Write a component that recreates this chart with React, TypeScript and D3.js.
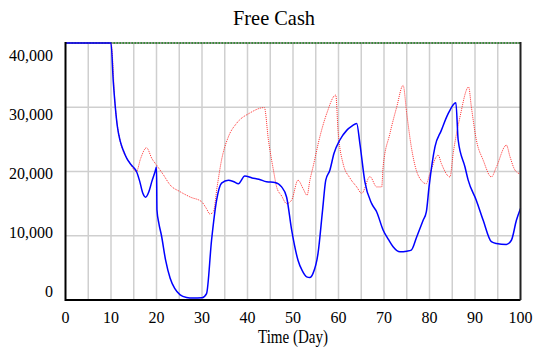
import { useEffect, useRef } from 'react';
import * as d3 from 'd3';

// run 1 (blue, solid)
const blueTime = [
  0, 10, 10.5, 10.95, 11.4, 12, 12.7, 13.5, 14.2, 15, 15.6, 16.3, 17, 17.6, 18.3, 19, 19.7, 20, 20.1,
  20.5, 21.1, 22, 23, 24, 25.2, 26.6, 28, 30, 31, 32.1, 33.2, 34.3, 35.8, 37, 38, 39.4, 41, 42.5,
  44.2, 46, 47.5, 48.6, 49.7, 51.1, 52, 53, 53.7, 54.4, 55.5, 56.5, 57.2, 58.1, 59, 60.3, 61.8, 63,
  64, 64.7, 65.8, 67.3, 68.4, 69.8, 71, 72, 73.5, 75, 76, 77.2, 78.6, 79.3, 79.9, 81.2, 82.6, 84.1,
  85.8, 86.3, 87.8, 88.5, 90.3, 91.8, 93.6, 94.7, 96.9, 98, 99.1, 100,
];
const blueCash = [
  46000, 40000, 34000, 30000, 27000, 24800, 23300, 22000, 21250, 20600, 20000, 18500, 16600, 16000,
  16800, 18500, 20000, 20700, 14000, 12000, 10000, 6200, 3400, 1800, 800, 400, 300, 350, 1000, 9300,
  15500, 18200, 18650, 18400, 18100, 19300, 19000, 18800, 18400, 18300, 17600, 16000, 10900, 6200,
  4600, 3600, 3500, 4150, 7250, 14000, 18650, 20200, 22800, 24900, 26400, 27100, 27470, 24350,
  18400, 15000, 13700, 10900, 9400, 8300, 7500, 7600, 7770, 9850, 12400, 13700, 17600, 23840, 26400,
  29000, 30700, 24900, 20700, 18650, 15500, 12400, 9070, 8800, 8650, 9300, 12400, 14250,
];

// run 2 (red, dotted)
const redTime = [
  0, 10, 10.95, 12, 14.2, 15.6, 16.5, 17.8, 19, 20, 21.5, 23, 25.2, 27.5, 29.9, 31, 31.7, 32.5, 33.3,
  34.3, 35.8, 37.6, 40.5, 43.7, 44.6, 45.7, 46.4, 47.5, 48.6, 49.7, 51.1, 52.2, 53.1, 53.7, 54.4,
  55.9, 57.4, 59.4, 59.9, 61, 62.5, 64, 65.1, 66.9, 68.4, 69.5, 69.8, 71.3, 72.8, 74.2, 75, 76, 77.5,
  79.3, 80.1, 81.9, 82.6, 84.5, 85.2, 86.7, 88.6, 89.2, 90.3, 91.8, 93.6, 94.7, 96.9, 97.7, 98.8, 100,
];
const redCash = [
  46000, 40000, 30000, 24800, 21250, 20000, 22000, 23700, 22000, 21000, 19500, 17900, 16850, 16000,
  15300, 14200, 13400, 13700, 17500, 21800, 25400, 27500, 29100, 29950, 24900, 20200, 17600, 16200,
  15000, 15550, 18650, 17360, 16300, 18600, 20700, 25400, 29000, 31900, 26400, 21250, 19000, 17600,
  16600, 19200, 17600, 17600, 20700, 25900, 30050, 33400, 29000, 23840, 19430, 18100, 19700, 22550,
  21250, 19150, 22800, 28500, 33150, 30050, 24900, 21770, 19150, 20700, 24100, 22280, 20200, 19600,
];

// run 3 (green, dotted) - stays above the scale
const greenTime = [0, 100];
const greenCash = [52000, 52000];

const xTicks = [0, 10, 20, 30, 40, 50, 60, 70, 80, 90, 100];
const xGrid = [5, 10, 15, 20, 25, 30, 35, 40, 45, 50, 55, 60, 65, 70, 75, 80, 85, 90, 95];
const yTicks = [0, 10000, 20000, 30000, 40000];

const FONT = "'Liberation Serif', 'Times New Roman', serif";

const FreeCashChart = () => {
  const ref = useRef<SVGSVGElement>(null);

  const left = 65.5;
  const right = 520.5;
  const top = 43;
  const bottom = 300;

  useEffect(() => {
    const svg = d3.select(ref.current);
    svg.selectAll('*').remove();

    const x = d3.scaleLinear().domain([0, 100]).range([left, right]);
    const y = d3.scaleLinear().domain([0, 40000]).range([bottom, top]).clamp(true);
    // vensim spreads the value labels evenly inside the frame
    const yLabel = d3.scaleLinear().domain([0, 40000]).range([297, 61]);

    // title
    svg
      .append('text')
      .attr('x', 274)
      .attr('y', 25)
      .attr('text-anchor', 'middle')
      .attr('textLength', 82)
      .attr('lengthAdjust', 'spacingAndGlyphs')
      .attr('font-family', FONT)
      .attr('font-size', 22)
      .attr('fill', '#000')
      .text('Free Cash');

    // grid
    const grid = svg.append('g').attr('stroke', '#cfcfcf').attr('stroke-width', 1.5);
    grid
      .selectAll('line.v')
      .data(xGrid)
      .enter()
      .append('line')
      .attr('x1', (d) => x(d))
      .attr('x2', (d) => x(d))
      .attr('y1', top)
      .attr('y2', bottom);
    grid
      .selectAll('line.h')
      .data(yTicks.filter((d) => d > 0 && d < 40000))
      .enter()
      .append('line')
      .attr('x1', left)
      .attr('x2', right)
      .attr('y1', (d) => y(d))
      .attr('y2', (d) => y(d));

    // top frame
    svg
      .append('line')
      .attr('x1', left)
      .attr('x2', right)
      .attr('y1', top)
      .attr('y2', top)
      .attr('stroke', '#777')
      .attr('stroke-width', 1.5);

    const line = (ts: number[]) =>
      d3
        .line<number>()
        .x((_, i) => x(ts[i]))
        .y((d) => y(d))
        .curve(d3.curveMonotoneX);

    svg
      .append('path')
      .attr('d', line(greenTime)(greenCash))
      .attr('fill', 'none')
      .attr('stroke', '#1a8a1a')
      .attr('stroke-width', 1.5)
      .attr('stroke-dasharray', '1.5,1.5');

    svg
      .append('path')
      .attr('d', line(redTime)(redCash))
      .attr('fill', 'none')
      .attr('stroke', '#ff3030')
      .attr('stroke-width', 1)
      .attr('stroke-dasharray', '1,1');

    svg
      .append('path')
      .attr('d', line(blueTime)(blueCash))
      .attr('fill', 'none')
      .attr('stroke', '#0000ff')
      .attr('stroke-width', 1.5)
      .attr('stroke-linejoin', 'round');

    // frame: left, bottom, right
    svg
      .append('path')
      .attr('d', `M${left},${top - 1}V${bottom}H${right}`)
      .attr('fill', 'none')
      .attr('stroke', '#000')
      .attr('stroke-width', 2);
    svg
      .append('line')
      .attr('x1', right)
      .attr('x2', right)
      .attr('y1', top - 1)
      .attr('y2', bottom)
      .attr('stroke', '#222')
      .attr('stroke-width', 2);

    // x labels
    svg
      .append('g')
      .selectAll('text')
      .data(xTicks)
      .enter()
      .append('text')
      .attr('x', (d) => x(d))
      .attr('y', 323)
      .attr('text-anchor', 'middle')
      .attr('font-family', FONT)
      .attr('font-size', 16)
      .text((d) => String(d));

    // y labels
    svg
      .append('g')
      .selectAll('text')
      .data(yTicks)
      .enter()
      .append('text')
      .attr('x', 53)
      .attr('y', (d) => yLabel(d))
      .attr('text-anchor', 'end')
      .attr('font-family', FONT)
      .attr('font-size', 16)
      .text((d) => d3.format(',')(d));

    // axis title
    svg
      .append('text')
      .attr('x', 293)
      .attr('y', 343)
      .attr('text-anchor', 'middle')
      .attr('textLength', 70)
      .attr('lengthAdjust', 'spacingAndGlyphs')
      .attr('font-family', FONT)
      .attr('font-size', 18)
      .text('Time (Day)');
  }, []);

  return (
    <svg
      ref={ref}
      width={534}
      height={356}
      style={{ position: 'absolute', left: 0, top: 0, background: '#fff' }}
    />
  );
};

export default function App() {
  return <FreeCashChart />;
}
